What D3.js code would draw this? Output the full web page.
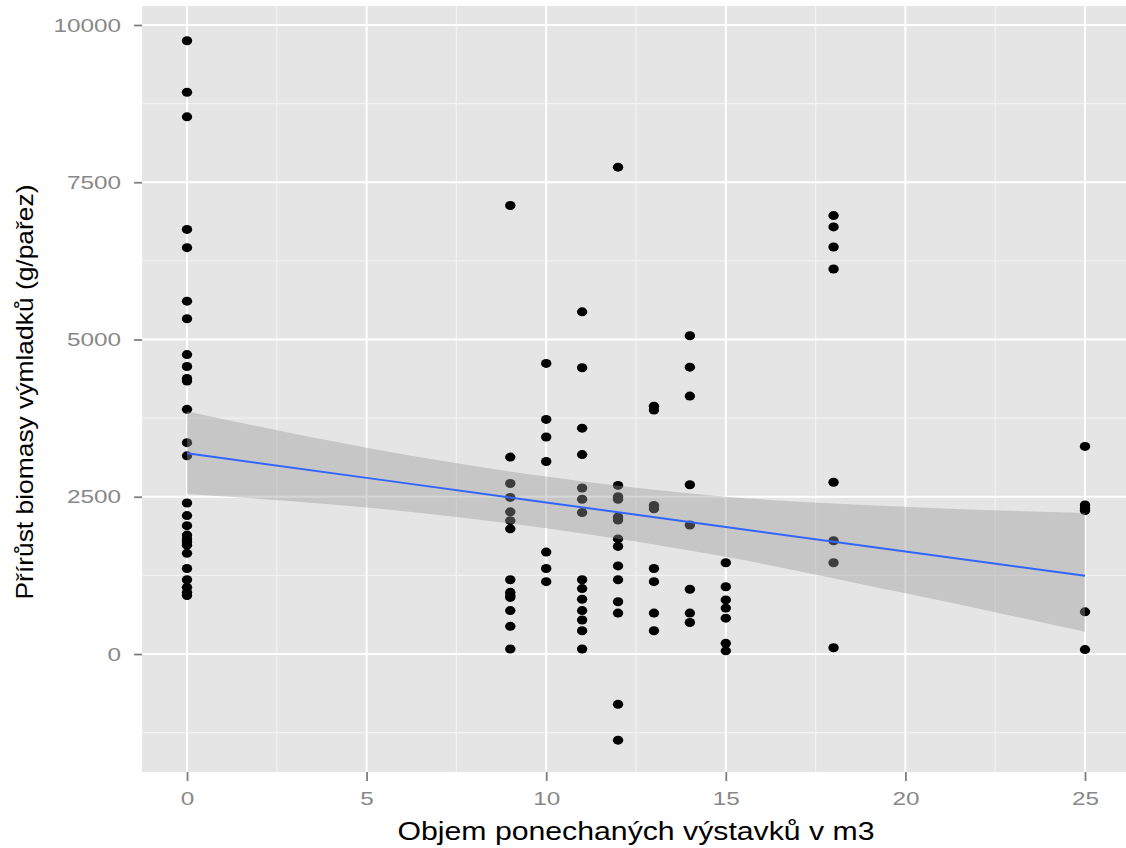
<!DOCTYPE html>
<html>
<head>
<meta charset="utf-8">
<script src="https://cdn.jsdelivr.net/npm/d3@7"></script>
<style>
  body { margin: 0; background: #fff; }
  svg { display: block; font-family: "Liberation Sans", Arial, sans-serif; }
</style>
</head>
<body>
<div id="chart"></div>
<script>
// points: one x list per stump group, y values
const xGroups = [0, 9, 10, 11, 12, 13, 14, 15, 18, 25];
const yGroups = [
    [9750, 8930, 8540, 6750, 6460, 5610, 5330, 4760, 4570, 4380, 4340, 3890, 3360, 3150,
     2400, 2200, 2040, 1890, 1830, 1780, 1730, 1600, 1360, 1180, 1060, 980, 930],
    [7130, 3130, 2710, 2490, 2260, 2120, 1990, 1180, 980, 930, 900, 690, 440, 80],
    [4620, 3730, 3450, 3060, 1620, 1360, 1150],
    [5440, 4550, 3590, 3170, 2640, 2460, 2250, 1180, 1040, 870, 690, 540, 370, 80],
    [7740, 2680, 2500, 2460, 2180, 2130, 1830, 1710, 1400, 1180, 830, 650, -800, -1370],
    [3940, 3880, 2360, 2310, 1360, 1150, 650, 370],
    [5060, 4560, 4100, 2690, 2050, 1030, 650, 500],
    [1450, 1070, 860, 730, 570, 170, 50],
    [6970, 6790, 6470, 6120, 2730, 1800, 1450, 100],
    [3300, 2370, 2320, 2280, 670, 70]
];

// smoother (lm) and its band
const smoothX = [0, 5, 10, 15, 20, 25];
const smoothFit = [3190, 2800, 2410, 2020, 1630, 1245];
const smoothHi = [3855, 3280, 2820, 2500, 2340, 2240];
const smoothLo = [2545, 2330, 2000, 1545, 965, 355];

const xTicks = [0, 5, 10, 15, 20, 25];
const xMinor = [2.5, 7.5, 12.5, 17.5, 22.5];
const yTicks = [0, 2500, 5000, 7500, 10000];
const yMinor = [-1250, 1250, 3750, 6250, 8750];

const xTitle = "Objem ponechaných výstavků v m3";
const yTitle = "Přírůst biomasy výmladků (g/pařez)";

function drawChart() {
    var width = 1126, height = 848;
    var xLim = [-1.25, 26.25], yLim = [-1876, 10302];

    var x = d3.scaleLinear().domain([0, 25]).range([187, 1085]);
    var y = d3.scaleLinear().domain([0, 10000]).range([654, 25]);

    var points = [];
    xGroups.forEach(function (gx, i) {
        yGroups[i].forEach(function (v) { points.push({ x: gx, y: v }); });
    });

    var svg = d3.select("#chart").append("svg")
        .attr("width", width)
        .attr("height", height);

    var pLeft = x(xLim[0]), pRight = x(xLim[1]), pTop = y(yLim[1]), pBottom = y(yLim[0]);

    svg.append("rect")
        .attr("x", pLeft).attr("y", pTop)
        .attr("width", pRight - pLeft).attr("height", pBottom - pTop)
        .attr("fill", "#E5E5E5");

    // minor grid
    svg.append("g").selectAll("line").data(xMinor).join("line")
        .attr("x1", d => x(d)).attr("x2", d => x(d))
        .attr("y1", pTop).attr("y2", pBottom)
        .attr("stroke", "#F2F2F2").attr("stroke-width", 1.2);
    svg.append("g").selectAll("line").data(yMinor).join("line")
        .attr("x1", pLeft).attr("x2", pRight)
        .attr("y1", d => y(d)).attr("y2", d => y(d))
        .attr("stroke", "#F2F2F2").attr("stroke-width", 1.2);

    // major grid
    svg.append("g").selectAll("line").data(xTicks).join("line")
        .attr("x1", d => x(d)).attr("x2", d => x(d))
        .attr("y1", pTop).attr("y2", pBottom)
        .attr("stroke", "#fff").attr("stroke-width", 2);
    svg.append("g").selectAll("line").data(yTicks).join("line")
        .attr("x1", pLeft).attr("x2", pRight)
        .attr("y1", d => y(d)).attr("y2", d => y(d))
        .attr("stroke", "#fff").attr("stroke-width", 2);

    // points
    svg.append("g").selectAll("ellipse").data(points).join("ellipse")
        .attr("cx", d => x(d.x)).attr("cy", d => y(d.y))
        .attr("rx", 5.2).attr("ry", 4.5)
        .attr("fill", "#000");

    // confidence band + line
    var band = d3.area()
        .x((d, i) => x(smoothX[i]))
        .y0((d, i) => y(smoothLo[i]))
        .y1((d, i) => y(smoothHi[i]))
        .curve(d3.curveMonotoneX);
    svg.append("path")
        .attr("d", band(smoothX))
        .attr("fill", "#999999")
        .attr("fill-opacity", 0.4);

    var fitLine = d3.line()
        .x((d, i) => x(smoothX[i]))
        .y((d, i) => y(smoothFit[i]));
    svg.append("path")
        .attr("d", fitLine(smoothX))
        .attr("fill", "none")
        .attr("stroke", "#3366FF")
        .attr("stroke-width", 2);

    // axes
    var sx = 1.28;
    var xAxis = svg.append("g")
        .attr("transform", "translate(0," + pBottom + ")")
        .call(d3.axisBottom(x).tickValues(xTicks).tickFormat(d3.format("d"))
            .tickSize(9).tickPadding(11));
    var yAxis = svg.append("g")
        .attr("transform", "translate(" + pLeft + ",0)")
        .call(d3.axisLeft(y).tickValues(yTicks).tickFormat(d3.format("d"))
            .tickSize(8).tickPadding(13));

    [xAxis, yAxis].forEach(function (a) {
        a.select(".domain").remove();
        a.selectAll(".tick line").attr("stroke", "#7F7F7F").attr("stroke-width", 1.8);
        a.selectAll(".tick text")
            .attr("fill", "#888888")
            .style("font-size", "19px")
            .attr("transform", "scale(" + sx + ",1)");
    });
    yAxis.selectAll(".tick text").attr("x", -21 / sx);

    // titles
    svg.append("text")
        .attr("x", (pLeft + pRight) / 2)
        .attr("y", 840)
        .attr("text-anchor", "middle")
        .attr("textLength", 477)
        .attr("lengthAdjust", "spacingAndGlyphs")
        .style("font-size", "25px")
        .attr("fill", "#000")
        .text(xTitle);

    svg.append("text")
        .attr("transform", "translate(33," + ((pTop + pBottom) / 2 + 3) + ") rotate(-90)")
        .attr("text-anchor", "middle")
        .attr("textLength", 415)
        .attr("lengthAdjust", "spacingAndGlyphs")
        .style("font-size", "24px")
        .attr("fill", "#000")
        .text(yTitle);
}

drawChart();
</script>
</body>
</html>
